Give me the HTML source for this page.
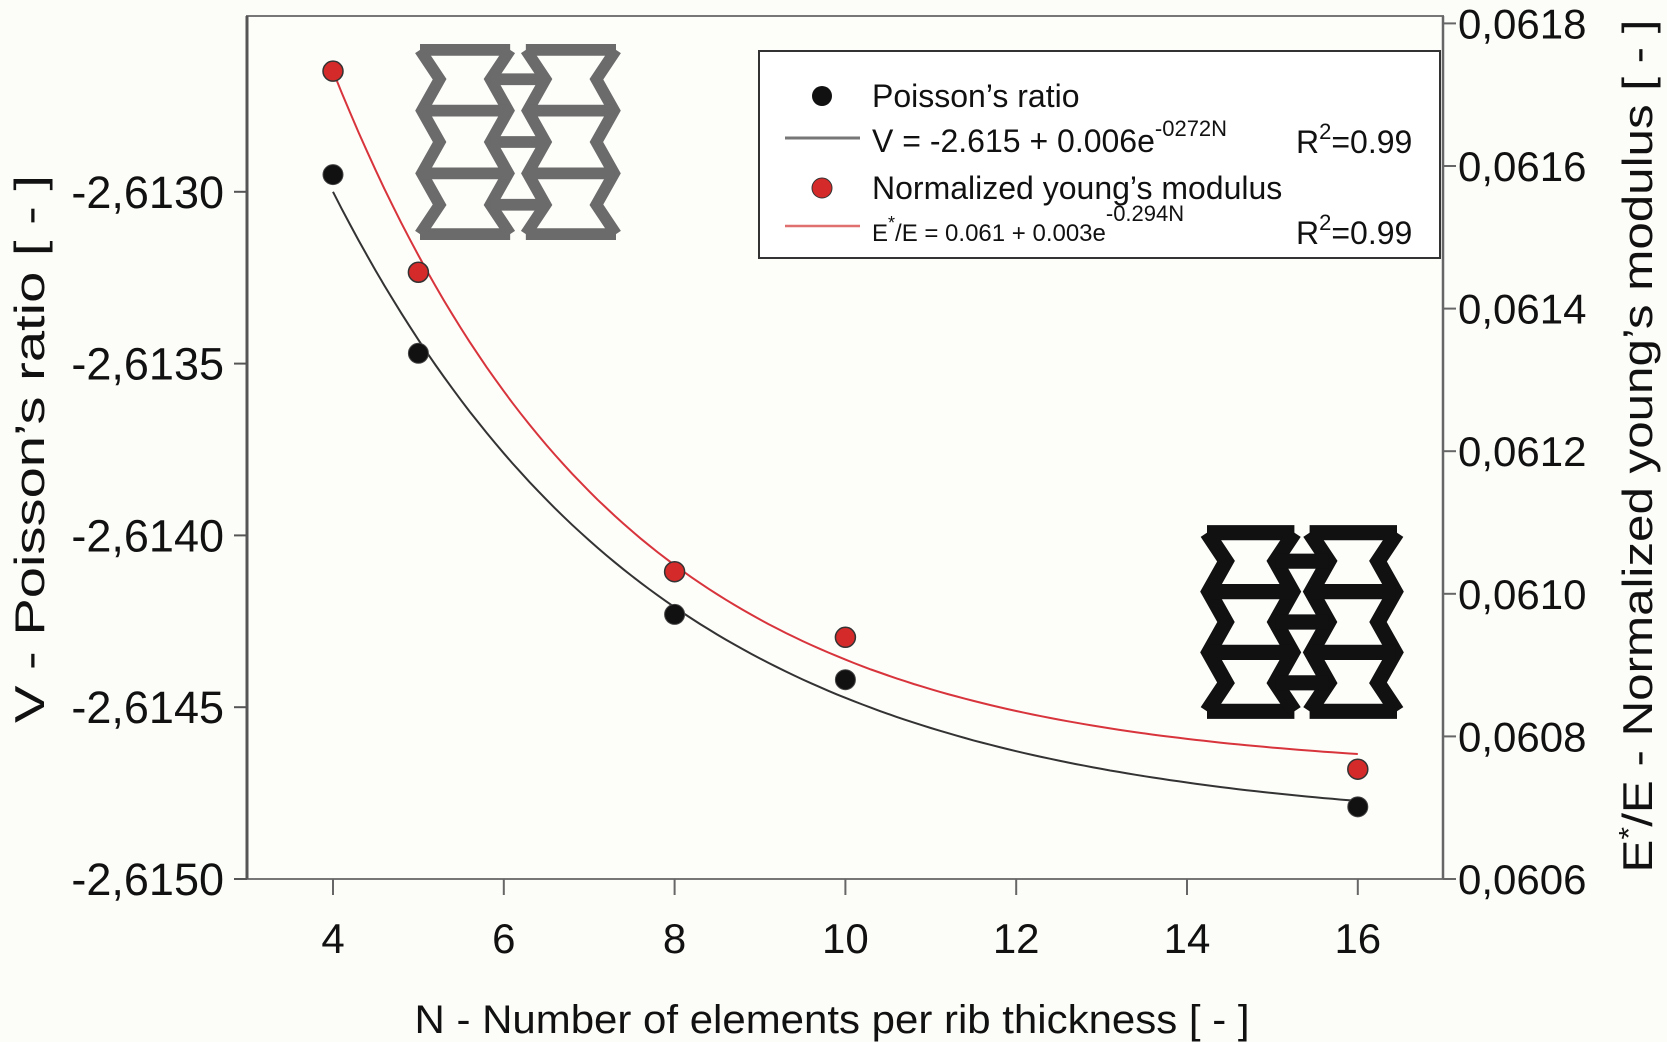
<!DOCTYPE html>
<html><head><meta charset="utf-8"><style>
html,body{margin:0;padding:0;background:#fcfcf8;}
svg{display:block;font-family:"Liberation Sans",Arial,sans-serif;}
</style></head><body>
<svg id="chart" width="1667" height="1042" viewBox="0 0 1667 1042" xmlns="http://www.w3.org/2000/svg">
<rect x="0" y="0" width="1667" height="1042" fill="#fcfcf8"/>
<rect x="247" y="16" width="1196" height="863" fill="#fdfdfa" stroke="#777" stroke-width="2"/>
<g id="axes"></g>
<g id="icons"></g>
<g id="series"></g>
<g id="legend"></g>
<text x="832" y="1033" font-size="40" text-anchor="middle" textLength="835" lengthAdjust="spacingAndGlyphs" fill="#111">N - Number of elements per rib thickness [ - ]</text>
<text transform="translate(44,449) rotate(-90)" font-size="42" text-anchor="middle" textLength="548" lengthAdjust="spacingAndGlyphs" fill="#111">V - Poisson’s ratio [ - ]</text>
<text transform="translate(1652,446) rotate(-90)" font-size="42" text-anchor="middle" textLength="853" lengthAdjust="spacingAndGlyphs" fill="#111">E<tspan dy="-14" font-size="28">*</tspan><tspan dy="14">/E - Normalized young’s modulus [ - ]</tspan></text>
</svg>
<script>
const xTicks = [4, 6, 8, 10, 12, 14, 16];
const leftTicks = [-2.6150, -2.6145, -2.6140, -2.6135, -2.6130];
const leftTickLabels = ["-2,6150", "-2,6145", "-2,6140", "-2,6135", "-2,6130"];
const rightTicks = [0.0606, 0.0608, 0.0610, 0.0612, 0.0614, 0.0616, 0.0618];
const rightTickLabels = ["0,0606", "0,0608", "0,0610", "0,0612", "0,0614", "0,0616", "0,0618"];
const nValues = [4, 5, 8, 10, 16];
const poissonValues = [-2.61295, -2.61347, -2.61423, -2.61442, -2.61479];
const modulusValues = [0.061733, 0.061451, 0.061031, 0.060939, 0.060754];
const poissonFit = [-2.61485, 0.00185, 0.265];
const modulusFit = [0.06075, 0.000983, 0.305];

const NS = "http://www.w3.org/2000/svg";
const X = n => 333 + (n - 4) * 85.4;
const YL = v => 879 - (v + 2.6150) / 0.0005 * 171.8;
const YR = v => 879 - (v - 0.0606) / 0.0002 * 142.6;
function mk(tag, attrs, parent, txt) {
  const e = document.createElementNS(NS, tag);
  for (const k in attrs) e.setAttribute(k, attrs[k]);
  if (txt !== undefined) e.textContent = txt;
  parent.appendChild(e);
  return e;
}
const axes = document.getElementById('axes');
let la = mk('line', {x1:247, y1:16, x2:247, y2:879, stroke:'#555', 'stroke-width':3}, axes);


let ra = mk('line', {x1:1443, y1:16, x2:1443, y2:879, stroke:'#666', 'stroke-width':2.5}, axes);


xTicks.forEach(t => {
  const tk = mk('line', {x1:X(t), y1:879, x2:X(t), y2:895, stroke:'#666', 'stroke-width':2}, axes);
  
  
  const lb = mk('text', {x:X(t), y:953, 'font-size':42, 'text-anchor':'middle', fill:'#111'}, axes, String(t));
  
  
});
leftTicks.forEach((t, i) => {
  const y = YL(t);
  const tk = mk('line', {x1:234, y1:y, x2:247, y2:y, stroke:'#555', 'stroke-width':2}, axes);
  
  
  const lb = mk('text', {x:224, y:y + 16, 'font-size':45, 'text-anchor':'end', fill:'#111'}, axes, leftTickLabels[i]);
  
  
});
rightTicks.forEach((t, i) => {
  const y = YR(t);
  const tk = mk('line', {x1:1443, y1:y, x2:1456, y2:y, stroke:'#666', 'stroke-width':2}, axes);
  
  
  const lb = mk('text', {x:1458, y:y + 15, 'font-size':42, 'text-anchor':'start', fill:'#111'}, axes, rightTickLabels[i]);
  
  
});

const icons = document.getElementById('icons');
function lattice(x0, y0, w, h, color, sw, name) {
  const g = mk('g', {transform:`translate(${x0},${y0}) scale(${w/100},${h/100})`, fill:'none', stroke:color, 'stroke-width':sw, 'stroke-linejoin':'miter'}, icons);
  
  
  [[0,46],[54,100]].forEach(([a,b]) => {
    mk('polyline', {points:`${a},3 ${b},3`}, g);
    mk('polyline', {points:`${a},97 ${b},97`}, g);
    mk('polyline', {points:`${a},3 ${a+10},18 ${a+1},34 ${a+10},50 ${a+1},66 ${a+10},82 ${a},97`}, g);
    mk('polyline', {points:`${b},3 ${b-10},18 ${b-1},34 ${b-10},50 ${b-1},66 ${b-10},82 ${b},97`}, g);
    mk('polyline', {points:`${a+1},34 ${b-1},34`}, g);
    mk('polyline', {points:`${a+1},66 ${b-1},66`}, g);
  });
  [18,50,82].forEach(y => mk('polyline', {points:`36,${y} 64,${y}`}, g));
}
lattice(420, 44, 196, 196, '#6b6b6b', 6, 'lattice-icon-thin');
lattice(1207, 527, 190, 190, '#111', 8, 'lattice-icon-thick');

const series = document.getElementById('series');
function curve(fit, Y, color, name) {
  let d = '';
  for (let n = 4; n <= 16.001; n += 0.1) {
    const v = fit[0] + fit[1] * Math.exp(-fit[2] * (n - 4));
    d += (d ? 'L' : 'M') + X(n).toFixed(1) + ',' + Y(v).toFixed(1);
  }
  const p = mk('path', {d, fill:'none', stroke:color, 'stroke-width':2}, series);
  
  
}
curve(poissonFit, YL, '#333', 'poisson-fit-line');
curve(modulusFit, YR, '#d8343c', 'modulus-fit-line');
nValues.forEach((n, i) => {
  const c = mk('circle', {cx:X(n), cy:YL(poissonValues[i]), r:10, fill:'#111', stroke:'#444', 'stroke-width':1}, series);
  
  
});
nValues.forEach((n, i) => {
  const c = mk('circle', {cx:X(n), cy:YR(modulusValues[i]), r:10, fill:'#d42a2a', stroke:'#333', 'stroke-width':1.5}, series);
  
  
});

const lg = document.getElementById('legend');
const box = mk('rect', {x:759, y:51, width:681, height:207, fill:'#fff', stroke:'#333', 'stroke-width':2}, lg);


let e;
e = mk('circle', {cx:822, cy:96, r:10, fill:'#111'}, lg);


e = mk('text', {x:872, y:107, 'font-size':32, fill:'#111'}, lg, 'Poisson’s ratio');


e = mk('line', {x1:785, y1:138, x2:860, y2:138, stroke:'#777', 'stroke-width':3}, lg);


e = mk('text', {x:872, y:152, 'font-size':32, fill:'#111'}, lg);
e.innerHTML = 'V = -2.615 + 0.006e<tspan dy="-16" font-size="22">-0272N</tspan>';


e = mk('text', {x:1296, y:153, 'font-size':32, fill:'#111'}, lg);
e.innerHTML = 'R<tspan dy="-14" font-size="22">2</tspan><tspan dy="14">=0.99</tspan>';


e = mk('circle', {cx:822, cy:188, r:10, fill:'#d42a2a', stroke:'#333', 'stroke-width':1}, lg);


e = mk('text', {x:872, y:199, 'font-size':32, fill:'#111'}, lg, 'Normalized young’s modulus');


e = mk('line', {x1:785, y1:226, x2:860, y2:226, stroke:'#e07070', 'stroke-width':2.5}, lg);


e = mk('text', {x:872, y:241, 'font-size':24, fill:'#111'}, lg);
e.innerHTML = 'E<tspan dy="-12" font-size="18">*</tspan><tspan dy="12">/E = 0.061 + 0.003e</tspan><tspan dy="-20" font-size="22">-0.294N</tspan>';


e = mk('text', {x:1296, y:244, 'font-size':32, fill:'#111'}, lg);
e.innerHTML = 'R<tspan dy="-14" font-size="22">2</tspan><tspan dy="14">=0.99</tspan>';


</script>
</body></html>
